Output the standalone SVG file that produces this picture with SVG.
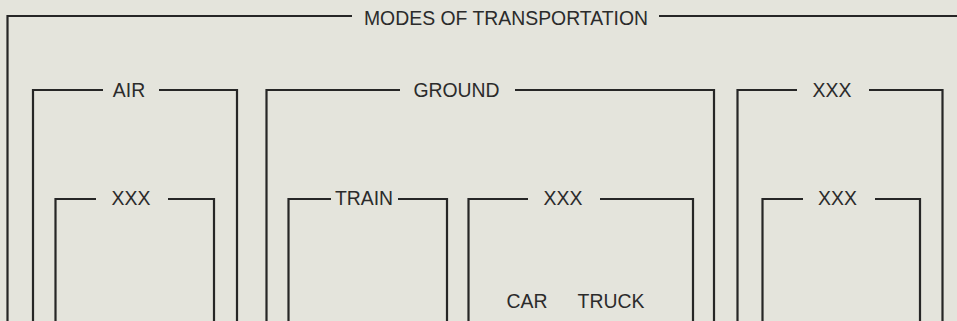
<svg xmlns="http://www.w3.org/2000/svg" width="957" height="321" viewBox="0 0 957 321">
  <style>
    .frame { fill: none; stroke: #262626; stroke-width: 2.2; stroke-linecap: butt; stroke-linejoin: miter; }
    .label { font-family: "Liberation Sans", Arial, Helvetica, sans-serif; font-size: 19.4px; fill: #2b2b2b; text-anchor: middle; }
  </style>
  <rect x="0" y="0" width="957" height="321" fill="#e4e4dc"/>

  <!-- outermost frame -->
  <g id="modes-of-transportation">
    <path class="frame" d="M352,16 H7.5 V330"/>
    <path class="frame" d="M659,16 H960"/>
    <text class="label" x="506" y="25">MODES OF TRANSPORTATION</text>
  </g>

  <!-- AIR -->
  <g id="air">
    <path class="frame" d="M103,90 H33 V330"/>
    <path class="frame" d="M159,90 H237 V330"/>
    <text class="label" x="129" y="96.7">AIR</text>
  </g>
  <g id="air-xxx">
    <path class="frame" d="M96,199 H55.5 V330"/>
    <path class="frame" d="M168,199 H214 V330"/>
    <text class="label" x="131" y="205">XXX</text>
  </g>

  <!-- GROUND -->
  <g id="ground">
    <path class="frame" d="M400,90 H266.5 V330"/>
    <path class="frame" d="M515,90 H714 V330"/>
    <text class="label" x="456.5" y="96.7">GROUND</text>
  </g>
  <g id="train">
    <path class="frame" d="M331,199 H288.5 V330"/>
    <path class="frame" d="M398,199 H447 V330"/>
    <text class="label" x="364" y="205">TRAIN</text>
  </g>
  <g id="ground-xxx">
    <path class="frame" d="M528,199 H468.5 V330"/>
    <path class="frame" d="M600,199 H693 V330"/>
    <text class="label" x="563" y="205">XXX</text>
    <text class="label" x="527" y="307.7">CAR</text>
    <text class="label" x="611" y="307.7">TRUCK</text>
  </g>

  <!-- third branch -->
  <g id="other">
    <path class="frame" d="M797,90 H737.5 V330"/>
    <path class="frame" d="M869,90 H942.5 V330"/>
    <text class="label" x="832" y="96.7">XXX</text>
  </g>
  <g id="other-xxx">
    <path class="frame" d="M803,199 H762.5 V330"/>
    <path class="frame" d="M875,199 H920 V330"/>
    <text class="label" x="837.5" y="205">XXX</text>
  </g>
</svg>
